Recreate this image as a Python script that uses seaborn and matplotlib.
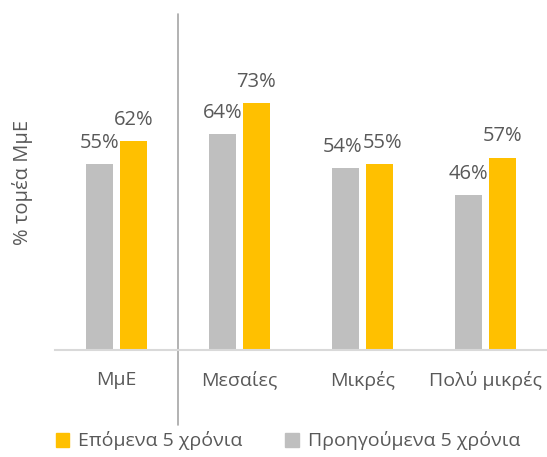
import numpy as np
import pandas as pd
import matplotlib
matplotlib.use('Agg')
import matplotlib.pyplot as plt
from matplotlib.patches import Patch
import seaborn as sns

# data
categories = ['ΜμΕ', 'Μεσαίες', 'Μικρές', 'Πολύ μικρές']
previous_5y = [55, 64, 54, 46]
next_5y = [62, 73, 55, 57]
series_names = ['Προηγούμενα 5 χρόνια', 'Επόμενα 5 χρόνια']
ylabel = '% τομέα ΜμΕ'

df = pd.DataFrame({
    'cat': categories * 2,
    'value': previous_5y + next_5y,
    'series': [series_names[0]] * 4 + [series_names[1]] * 4,
})

sns.set_theme(style='white')
plt.rcParams['font.family'] = ['Open Sans', 'DejaVu Sans']
txt = '#595959'
grey, gold = '#BFBFBF', '#FFC000'

fig = plt.figure(figsize=(5.47, 4.57), dpi=100)
ax = fig.add_axes([55 / 547, 107 / 457, 492 / 547, 336 / 457])

sns.barplot(data=df, x='cat', y='value', hue='series', hue_order=series_names,
            palette=[grey, gold], width=0.55, gap=0.2, ax=ax, legend=False,
            saturation=1, linewidth=0)

for k, c in enumerate(ax.containers):
    anns = ax.bar_label(c, labels=[f'{v:.0f}%' for v in c.datavalues],
                        padding=8, fontsize=14.5, color=txt)
    # Μικρές labels sit close together: nudge them apart a bit
    anns[2].xyann = (-2.5 if k == 0 else 2.5, 8)

ax.set_xlim(-0.5, 3.5)
ax.set_ylim(0, 99.5)
ax.set_yticks([])
ax.set_xlabel('')
ax.set_ylabel(ylabel, fontsize=14.5, color=txt, labelpad=16)
ax.tick_params(axis='x', length=0, pad=15, labelsize=14, labelcolor=txt)
for s in ['top', 'right', 'left']:
    ax.spines[s].set_visible(False)
ax.spines['bottom'].set_color('#D9D9D9')
ax.spines['bottom'].set_linewidth(1.5)

# vertical separator
ax.plot([0.5, 0.5], [-0.223, 1.0], transform=ax.get_xaxis_transform(),
        color='#A6A6A6', lw=1.2, clip_on=False)

handles = [Patch(color=gold), Patch(color=grey)]
fig.legend(handles, [series_names[1], series_names[0]], loc='center',
           bbox_to_anchor=(288 / 547, 1 - 441 / 457), ncol=2, frameon=False,
           handlelength=0.7, handleheight=0.7, handletextpad=0.45,
           columnspacing=2.2, fontsize=14, labelcolor=txt)

fig.savefig('out.png', dpi=100)
